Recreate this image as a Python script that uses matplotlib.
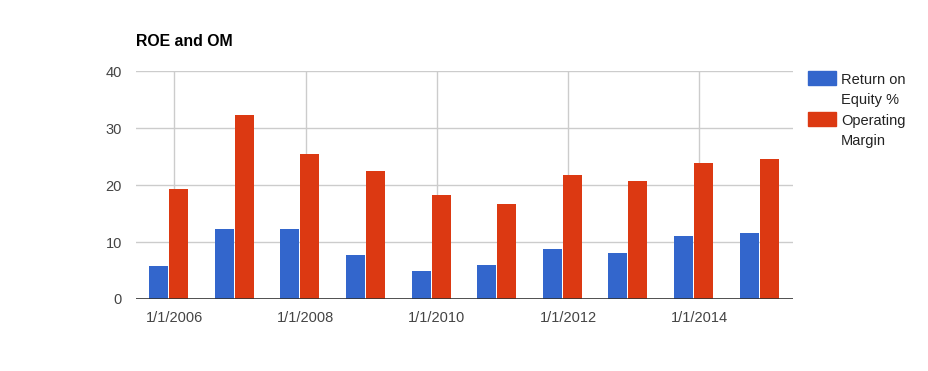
import numpy as np
import matplotlib
matplotlib.use("Agg")
import matplotlib.pyplot as plt
from matplotlib.patches import Rectangle

years = [2006, 2007, 2008, 2009, 2010, 2011, 2012, 2013, 2014, 2015]
roe = [5.8, 12.3, 12.3, 7.7, 4.9, 6.0, 8.8, 8.1, 11.1, 11.6]
om = [19.3, 32.3, 25.5, 22.5, 18.3, 16.7, 21.8, 20.7, 23.9, 24.6]
tick_years = [2006, 2008, 2010, 2012, 2014]
tick_labels = ["1/1/2006", "1/1/2008", "1/1/2010", "1/1/2012", "1/1/2014"]
series_names = ["Return on\nEquity %", "Operating\nMargin"]
colors = ["#3366CC", "#DC3912"]

plt.rcParams["font.family"] = ["Liberation Sans", "DejaVu Sans"]

W, H = 929, 371
fig = plt.figure(figsize=(W / 100, H / 100), dpi=100)
ax = fig.add_axes([136 / W, 1 - 299 / H, (793 - 136) / W, (299 - 71.3) / H])

# data points sit a little before Jan 1 (date axis)
x = np.array(years) - 0.087
bw = 19 / 65.6
step = 20 / 65.6
ax.bar(x - step / 2, roe, width=bw, color=colors[0], zorder=3)
ax.bar(x + step / 2, om, width=bw, color=colors[1], zorder=3)

ax.set_xlim(2005.416, 2015.43)
ax.set_ylim(0, 40)
ax.set_yticks([0, 10, 20, 30, 40])
ax.set_xticks(tick_years)
ax.set_xticklabels(tick_labels)
ax.grid(True, color="#cccccc", linewidth=1, zorder=0)
ax.set_axisbelow(True)
ax.axhline(0, color="#333333", linewidth=1.2, zorder=4)

for s in ax.spines.values():
    s.set_visible(False)
ax.tick_params(length=0, labelsize=10.5, colors="#444444")
ax.tick_params(axis="y", pad=10)
ax.tick_params(axis="x", pad=9)

fig.text(136 / W, 1 - 41 / H, "ROE and OM", fontsize=11.4, fontweight="bold",
         va="center", ha="left", color="#000000")

# legend
for i, (name, c) in enumerate(zip(series_names, colors)):
    top = 71 + i * 41
    fig.add_artist(Rectangle((808 / W, 1 - (top + 14) / H), 28 / W, 14 / H,
                             transform=fig.transFigure, color=c))
    fig.text(841 / W, 1 - (top + 2) / H, name, fontsize=10.5, color="#222222",
             va="top", ha="left", linespacing=1.55)

fig.savefig("out.png", dpi=100)
